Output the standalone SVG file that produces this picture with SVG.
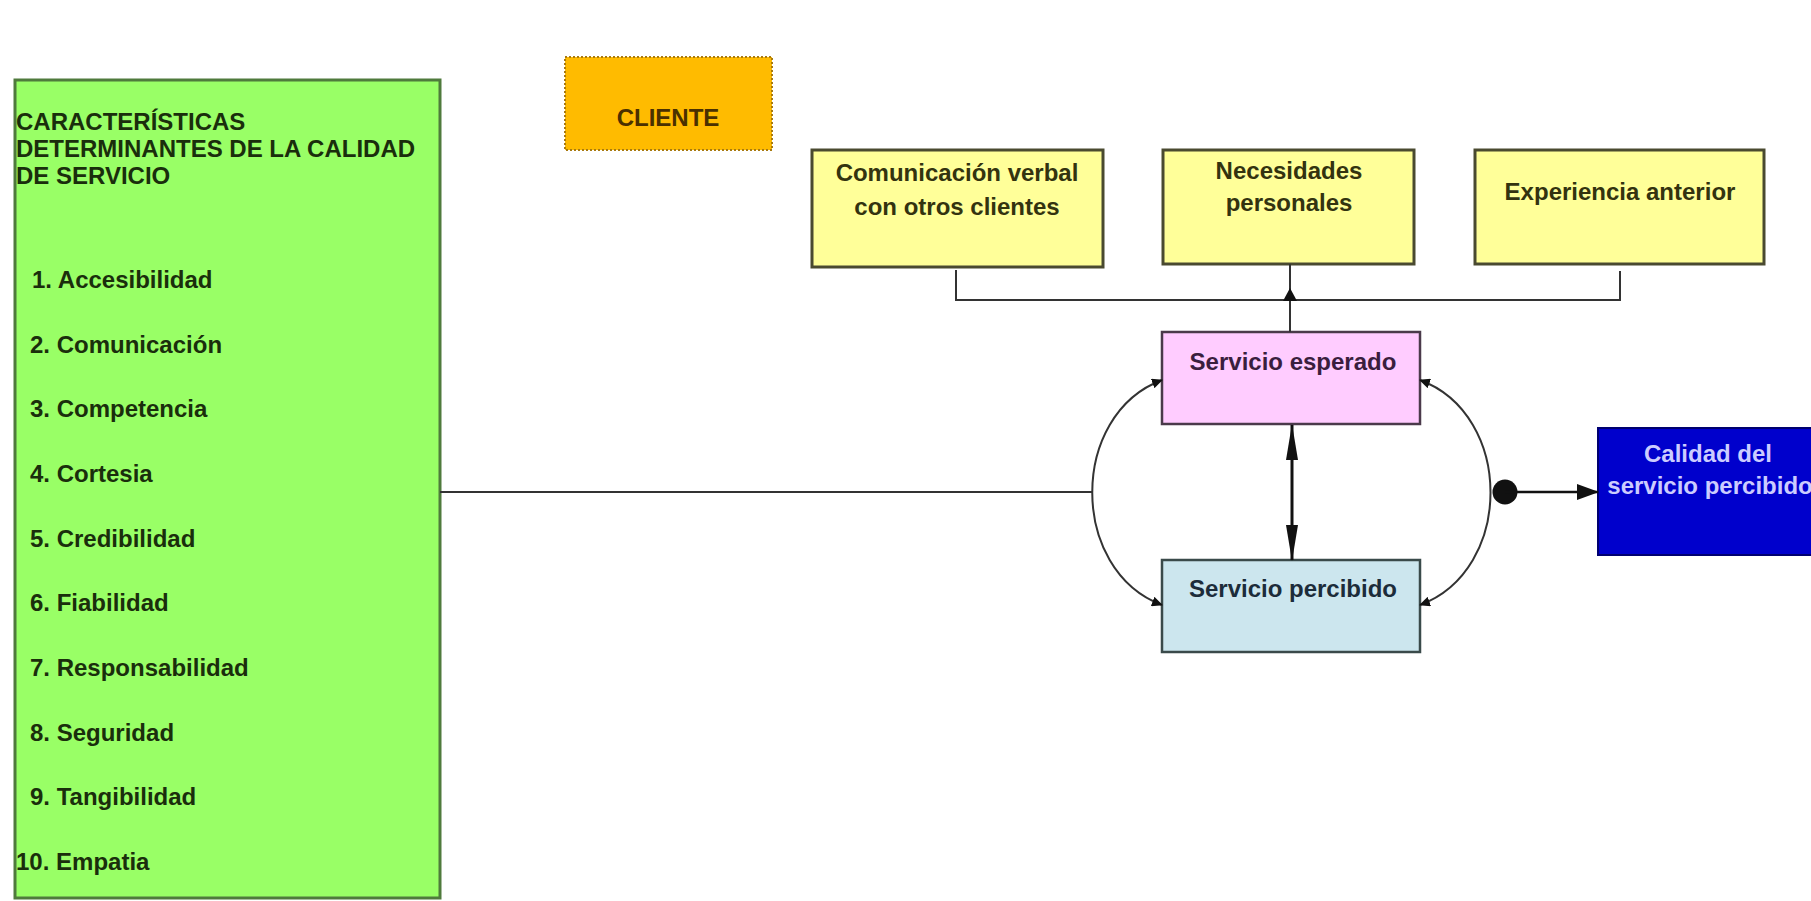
<svg xmlns="http://www.w3.org/2000/svg" width="1811" height="901" viewBox="0 0 1811 901">
<style>
text{font-family:"Liberation Sans",Arial,sans-serif;font-weight:bold;font-size:24px}
.g{fill:#1a2e0c}
.y{fill:#33330f;text-anchor:middle}
.ln{fill:none;stroke:#333;stroke-width:2}
</style>
<defs>
<marker id="aS" markerUnits="userSpaceOnUse" markerWidth="11" markerHeight="10" refX="10" refY="5" orient="auto-start-reverse"><path d="M0,0 L11,5 L0,10 z" fill="#111"/></marker>
<marker id="aL" markerUnits="userSpaceOnUse" markerWidth="36" markerHeight="12" refX="35" refY="6" orient="auto-start-reverse"><path d="M0,0 L36,6 L0,12 z" fill="#111"/></marker>
<marker id="aM" markerUnits="userSpaceOnUse" markerWidth="22" markerHeight="16" refX="21" refY="8" orient="auto"><path d="M0,0 L22,8 L0,16 z" fill="#111"/></marker>
</defs>
<rect width="1811" height="901" fill="#fff"/>

<g id="caracteristicas">
<rect x="15" y="80" width="425" height="818" fill="#99ff66" stroke="#4f7a3c" stroke-width="3"/>
<text class="g" x="16" y="130" font-size="24.5">CARACTERÍSTICAS</text>
<text class="g" x="16" y="157" font-size="24.5">DETERMINANTES DE LA CALIDAD</text>
<text class="g" x="16" y="184" font-size="24.5">DE SERVICIO</text>
<text class="g" x="32" y="288">1. Accesibilidad</text>
<text class="g" x="30" y="353">2. Comunicación</text>
<text class="g" x="30" y="417">3. Competencia</text>
<text class="g" x="30" y="482">4. Cortesia</text>
<text class="g" x="30" y="547">5. Credibilidad</text>
<text class="g" x="30" y="611">6. Fiabilidad</text>
<text class="g" x="30" y="676">7. Responsabilidad</text>
<text class="g" x="30" y="741">8. Seguridad</text>
<text class="g" x="30" y="805">9. Tangibilidad</text>
<text class="g" x="16" y="870">10. Empatia</text>
</g>

<g id="cliente">
<rect x="565" y="57" width="207" height="93" fill="#ffbb00" stroke="#a87a10" stroke-width="2" stroke-dasharray="2 2"/>
<text x="668" y="126" text-anchor="middle" fill="#4a3000" font-size="23">CLIENTE</text>
</g>

<g id="comunicacion">
<rect x="812" y="150" width="291" height="117" fill="#ffff99" stroke="#4a4a30" stroke-width="3"/>
<text class="y" x="957" y="181">Comunicación verbal</text>
<text class="y" x="957" y="215">con otros clientes</text>
</g>

<g id="necesidades">
<rect x="1163" y="150" width="251" height="114" fill="#ffff99" stroke="#4a4a30" stroke-width="3"/>
<text class="y" x="1289" y="179">Necesidades</text>
<text class="y" x="1289" y="211">personales</text>
</g>

<g id="experiencia">
<rect x="1475" y="150" width="289" height="114" fill="#ffff99" stroke="#4a4a30" stroke-width="3"/>
<text class="y" x="1620" y="200">Experiencia anterior</text>
</g>

<g id="esperado">
<rect x="1162" y="332" width="258" height="92" fill="#ffccff" stroke="#4a3a4a" stroke-width="2.5"/>
<text x="1293" y="370" text-anchor="middle" fill="#3a1e3e">Servicio esperado</text>
</g>

<g id="percibido">
<rect x="1162" y="560" width="258" height="92" fill="#cce6ee" stroke="#3a4a4a" stroke-width="2.5"/>
<text x="1293" y="597" text-anchor="middle" fill="#1c2c3a">Servicio percibido</text>
</g>

<g id="calidad">
<rect x="1598" y="428" width="230" height="127" fill="#0000cc" stroke="#000070" stroke-width="2"/>
<text x="1708" y="462" text-anchor="middle" fill="#ccccff">Calidad del</text>
<text x="1710" y="494" text-anchor="middle" fill="#ccccff">servicio percibido</text>
</g>

<g id="connectors">
<path class="ln" d="M956,270 V300 H1620 V271"/>
<path class="ln" d="M1290,264 V332"/>
<polygon points="1283,301 1290,288 1297,301" fill="#111"/>
<path class="ln" d="M440,492 H1092"/>
<path class="ln" d="M1162,380 C1069,415 1069,570 1162,605" marker-start="url(#aS)" marker-end="url(#aS)"/>
<path class="ln" d="M1420,380 C1514,415 1514,570 1420,605" marker-start="url(#aS)" marker-end="url(#aS)"/>
<path d="M1292,425 V560" stroke="#111" stroke-width="3" fill="none" marker-start="url(#aL)" marker-end="url(#aL)"/>
<circle cx="1505" cy="492" r="12.5" fill="#111"/>
<path d="M1505,492 H1598" stroke="#111" stroke-width="2.5" fill="none" marker-end="url(#aM)"/>
</g>
</svg>
